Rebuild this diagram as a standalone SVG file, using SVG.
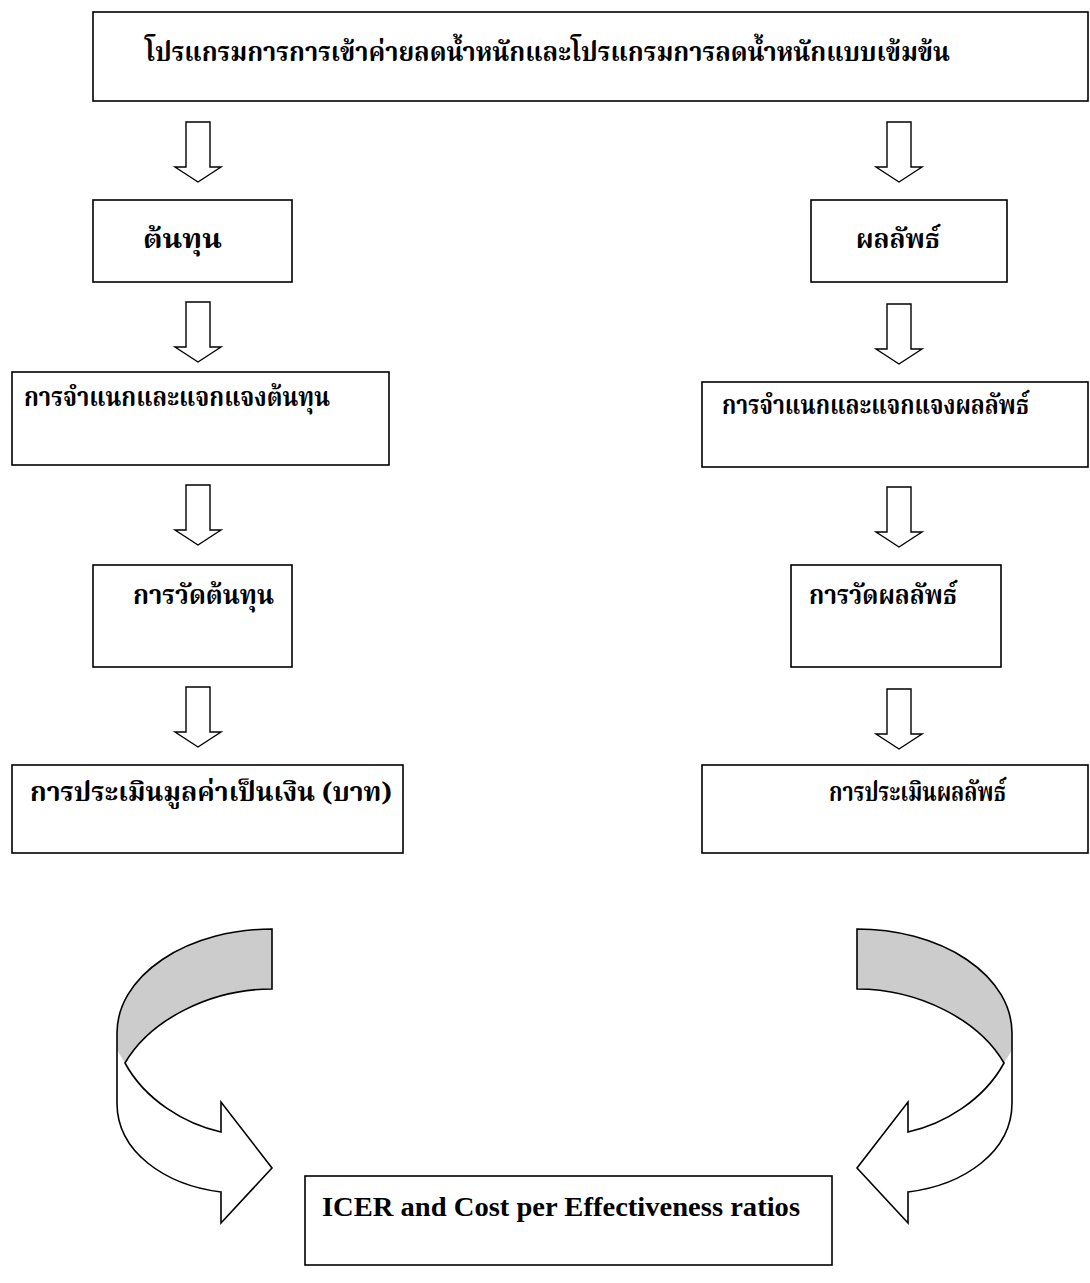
<svg xmlns="http://www.w3.org/2000/svg" width="1090" height="1283" viewBox="0 0 1090 1283">
<style>
.box{fill:#fff;stroke:#000;stroke-width:1.6}
.arr{fill:#fff;stroke:#000;stroke-width:1.4;stroke-linejoin:miter}
.th{font-family:"Noto Serif Thai","Noto Sans Thai","Loma","Garuda","Norasi","Liberation Serif",serif;font-weight:bold;font-size:26px;fill:#000}
.en{font-family:"Liberation Serif","Times New Roman",serif;font-weight:bold;font-size:28px;fill:#000}
.rib{stroke:#000;stroke-width:1.6;fill:none;stroke-linejoin:miter}
</style>
<defs>
<path id="dn" d="M-12,0 H12 V45 H23 L0,60 L-23,45 H-12 Z"/>
<g id="ribbon">
<path d="M272,929 A155,104 0 0 0 117,1033 L117,1103 C117,1152 165,1185 221,1192 L221,1223 L272,1168 L221,1102 L221,1132 C185,1124 145,1100 125,1063 C150,1020 210,989 272,989 Z" fill="#fff"/>
<path d="M272,929 A155,104 0 0 0 117,1033 L117,1050 L125,1063 C150,1020 210,989 272,989 Z" fill="#cccccc"/>
<path class="rib" d="M272,929 A155,104 0 0 0 117,1033 L117,1103 C117,1152 165,1185 221,1192 L221,1223 L272,1168 L221,1102 L221,1132 C185,1124 145,1100 125,1063 C150,1020 210,989 272,989 Z"/>
</g>
</defs>
<rect width="1090" height="1283" fill="#fff"/>

<g id="connectors">
<use href="#dn" class="arr" x="198" y="122"/>
<use href="#dn" class="arr" x="899" y="122"/>
<use href="#dn" class="arr" x="198" y="302"/>
<use href="#dn" class="arr" x="899" y="304"/>
<use href="#dn" class="arr" x="198" y="485"/>
<use href="#dn" class="arr" x="899" y="487"/>
<use href="#dn" class="arr" x="198" y="687"/>
<use href="#dn" class="arr" x="899" y="689"/>
<use href="#ribbon"/>
<use href="#ribbon" transform="translate(1129,0) scale(-1,1)"/>
</g>

<g id="n-program">
<rect class="box" x="93" y="12" width="995" height="89"/>
<text class="th" x="145" y="61" textLength="805" lengthAdjust="spacingAndGlyphs">โปรแกรมการการเข้าค่ายลดน้ำหนักและโปรแกรมการลดน้ำหนักแบบเข้มข้น</text>
</g>
<g id="n-cost">
<rect class="box" x="93" y="200" width="199" height="82"/>
<text class="th" x="143" y="248" textLength="79" lengthAdjust="spacingAndGlyphs">ต้นทุน</text>
</g>
<g id="n-outcome">
<rect class="box" x="811" y="200" width="196" height="82"/>
<text class="th" x="856" y="248" textLength="84" lengthAdjust="spacingAndGlyphs">ผลลัพธ์</text>
</g>
<g id="n-cost-id">
<rect class="box" x="12" y="372" width="377" height="93"/>
<text class="th" x="24" y="406" textLength="306" lengthAdjust="spacingAndGlyphs">การจำแนกและแจกแจงต้นทุน</text>
</g>
<g id="n-outcome-id">
<rect class="box" x="702" y="382" width="386" height="85"/>
<text class="th" x="722" y="414" textLength="307" lengthAdjust="spacingAndGlyphs">การจำแนกและแจกแจงผลลัพธ์</text>
</g>
<g id="n-cost-measure">
<rect class="box" x="93" y="565" width="199" height="102"/>
<text class="th" x="133" y="604" textLength="141" lengthAdjust="spacingAndGlyphs">การวัดต้นทุน</text>
</g>
<g id="n-outcome-measure">
<rect class="box" x="791" y="565" width="210" height="102"/>
<text class="th" x="809" y="604" textLength="148" lengthAdjust="spacingAndGlyphs">การวัดผลลัพธ์</text>
</g>
<g id="n-cost-value">
<rect class="box" x="12" y="765" width="391" height="88"/>
<text class="th" x="30" y="801" textLength="362" lengthAdjust="spacingAndGlyphs">การประเมินมูลค่าเป็นเงิน (บาท)</text>
</g>
<g id="n-outcome-value">
<rect class="box" x="702" y="765" width="386" height="88"/>
<text class="th" x="829" y="801" textLength="177" lengthAdjust="spacingAndGlyphs">การประเมินผลลัพธ์</text>
</g>
<g id="n-icer">
<rect class="box" x="305" y="1176" width="527" height="89"/>
<text class="en" x="322" y="1216" textLength="478" lengthAdjust="spacingAndGlyphs">ICER and Cost per Effectiveness ratios</text>
</g>
</svg>
